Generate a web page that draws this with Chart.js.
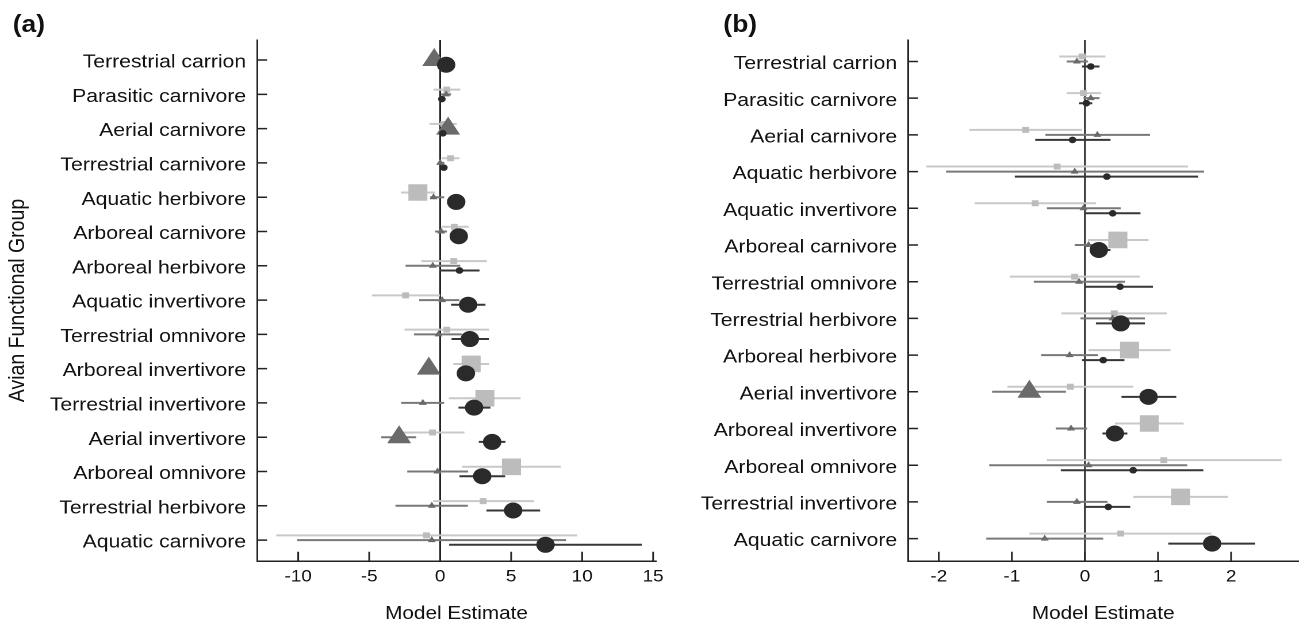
<!DOCTYPE html>
<html><head><meta charset="utf-8">
<script src="https://cdn.jsdelivr.net/npm/chart.js@4.4.1/dist/chart.umd.min.js"></script>
<style>
html,body{margin:0;padding:0;background:#fff;width:1312px;height:626px;overflow:hidden;}
#wrap{position:absolute;left:0;top:0;width:1141px;height:626px;transform:scaleX(1.15);transform-origin:0 0;}
#ca{position:absolute;left:0;top:0;}
#cb{position:absolute;left:600px;top:0;}
.lbl{position:absolute;font:bold 23px "Liberation Sans",Arial,sans-serif;line-height:23px;color:#111;}
</style></head><body>
<div id="wrap">
<canvas id="ca" width="600" height="626"></canvas>
<canvas id="cb" width="541" height="626"></canvas>
<div class="lbl" style="left:11px;top:13px">(a)</div>
<div class="lbl" style="left:629px;top:13px">(b)</div>
</div>
<script>
// ---------- Panel (a) data ----------
const catsA = ['Terrestrial carrion','Parasitic carnivore','Aerial carnivore','Terrestrial carnivore','Aquatic herbivore','Arboreal carnivore','Arboreal herbivore','Aquatic invertivore','Terrestrial omnivore','Arboreal invertivore','Terrestrial invertivore','Aerial invertivore','Arboreal omnivore','Terrestrial herbivore','Aquatic carnivore'];
const xTicksA = [-10, -5, 0, 5, 10, 15];

const sqEstA = [null, 0.47, 0.25, 0.73, -1.57, 0.99, 0.96, -2.44, 0.47, 2.18, 3.15, -0.54, 5.02, 3.03, -0.96];
const sqLoA  = [null, -0.47, -0.75, 0.12, -2.77, 0.12, -1.34, -4.81, -2.51, 0.92, 0.61, -2.58, 1.55, -0.49, -11.55];
const sqHiA  = [null, 1.41, 1.17, 1.36, -0.35, 2.00, 3.29, 0.00, 3.43, 3.43, 5.66, 1.71, 8.50, 6.60, 9.65];
const sqSigA = [0,0,0,0,1,0,0,0,0,1,1,0,1,0,0];

const triEstA = [-0.42, 0.42, 0.56, 0.00, -0.47, 0.07, -0.52, 0.14, -0.12, -0.80, -1.22, -2.89, -0.19, -0.59, -0.59];
const triLoA  = [null, 0.07, null, -0.15, -0.70, -0.35, -2.44, -1.48, -1.85, null, -2.75, -4.15, -2.32, -3.15, -10.07];
const triHiA  = [null, 0.77, null, 0.30, 0.28, 0.47, 1.41, 1.36, 1.53, null, 0.28, -1.69, 1.97, 1.95, 8.87];
const triSigA = [1,0,1,0,0,0,0,0,0,1,0,1,0,0,0];

const cirEstA = [0.42, 0.12, 0.19, 0.26, 1.13, 1.31, 1.36, 1.97, 2.09, 1.81, 2.39, 3.66, 2.96, 5.14, 7.42];
const cirLoA  = [null, -0.12, null, null, null, null, -0.05, 0.77, 0.80, null, 1.29, 2.72, 1.36, 3.26, 0.63];
const cirHiA  = [null, 0.35, null, null, null, null, 2.77, 3.19, 3.43, null, 3.54, 4.60, 4.58, 7.04, 14.20];
const cirSigA = [1,0,0,0,1,1,0,1,1,1,1,1,1,1,1];

// ---------- Panel (b) data ----------
const catsB = ['Terrestrial carrion','Parasitic carnivore','Aerial carnivore','Aquatic herbivore','Aquatic invertivore','Arboreal carnivore','Terrestrial omnivore','Terrestrial herbivore','Arboreal herbivore','Aerial invertivore','Arboreal invertivore','Arboreal omnivore','Terrestrial invertivore','Aquatic carnivore'];
const xTicksB = [-2, -1, 0, 1, 2];

const sqEstB = [-0.04, -0.02, -0.81, -0.38, -0.68, 0.45, -0.14, 0.40, 0.61, -0.20, 0.88, 1.08, 1.31, 0.49];
const sqLoB  = [-0.35, -0.25, -1.58, -2.17, -1.51, 0.04, -1.03, -0.32, 0.05, -1.06, 0.41, -0.52, 0.66, -0.76];
const sqHiB  = [0.28, 0.22, -0.04, 1.41, 0.15, 0.87, 0.75, 1.12, 1.17, 0.66, 1.35, 2.69, 1.96, 1.73];
const sqSigB = [0,0,0,0,0,1,0,0,1,0,1,0,1,0];

const triEstB = [-0.11, 0.08, 0.17, -0.14, -0.02, 0.05, -0.08, 0.38, -0.21, -0.76, -0.19, 0.05, -0.11, -0.55];
const triLoB  = [-0.25, -0.02, -0.54, -1.90, -0.52, -0.14, -0.70, -0.06, -0.60, -1.27, -0.40, -1.31, -0.52, -1.35];
const triHiB  = [0.04, 0.20, 0.89, 1.63, 0.49, 0.11, 0.55, 0.82, 0.18, -0.26, 0.03, 1.40, 0.31, 0.25];
const triSigB = [0,0,0,0,0,0,0,0,0,1,0,0,0,0];

const cirEstB = [0.08, 0.02, -0.17, 0.30, 0.38, 0.19, 0.48, 0.49, 0.25, 0.87, 0.41, 0.66, 0.32, 1.74];
const cirLoB  = [-0.04, -0.08, -0.68, -0.96, 0.00, 0.07, 0.00, 0.15, -0.04, 0.50, 0.24, -0.33, 0.00, 1.14];
const cirHiB  = [0.20, 0.10, 0.35, 1.55, 0.76, 0.35, 0.93, 0.82, 0.54, 1.25, 0.58, 1.62, 0.62, 2.33];
const cirSigB = [0,0,0,0,0,1,0,1,0,1,1,0,0,1];

// ---------- styling ----------
const FONT = '"Liberation Sans", Arial, Helvetica, sans-serif';
const COL = {sq:'#bcbcbc', tri:'#6a6a6a', cir:'#2a2a2a', sqLine:'#c8c8c8', triLine:'#787878', cirLine:'#363636', axis:'#222222', text:'#111111'};
const R = {sq:[4.2, 11.7], tri:[4, 12], cir:[3.3, 8]};
const OFF = {sq:-0.137, tri:0, cir:0.137};

function markerData(est, off){
  return est.map((v,i)=> v==null ? {x:null,y:null} : {x:v, y:i+off});
}
function barData(lo, hi, off){
  const d = [];
  lo.forEach((l,i)=>{
    if (l==null || hi[i]==null) return;
    d.push({x:l, y:i+off}, {x:hi[i], y:i+off}, {x:null, y:null});
  });
  return d;
}

const decor = {
  id:'decor',
  beforeDatasetsDraw(chart){
    const {ctx, chartArea:a, scales:{x}} = chart;
    const px = x.getPixelForValue(0);
    ctx.save();
    ctx.strokeStyle = COL.axis; ctx.lineWidth = 1.5;
    ctx.beginPath(); ctx.moveTo(px, a.top); ctx.lineTo(px, a.bottom); ctx.stroke();
    ctx.restore();
  },
  afterDraw(chart){
    const {ctx, chartArea:a, scales:{x, y}} = chart;
    ctx.save();
    ctx.strokeStyle = COL.axis; ctx.lineWidth = 1.5;
    ctx.beginPath();
    y.ticks.forEach(t=>{ const py = y.getPixelForValue(t.value); ctx.moveTo(a.left, py); ctx.lineTo(a.left + 8.7, py); });
    x.ticks.forEach(t=>{ const px = x.getPixelForValue(t.value); ctx.moveTo(px, a.bottom); ctx.lineTo(px, a.bottom - 9.3); });
    ctx.stroke();
    ctx.restore();
  }
};

function makeChart(id, cats, S, T, C, xmin, xmax, xticks, yWidth, padRight, yTitle){
  const n = cats.length;
  const markers = (ser, style, col, radii, off, order, label)=>({
    label, data: markerData(ser.est, off), pointStyle: style,
    pointRadius: ser.sig.map(s=>radii[s]), pointHoverRadius: ser.sig.map(s=>radii[s]),
    backgroundColor: col, borderWidth: 0, pointBorderWidth: 0, showLine: false, order
  });
  const bars = (ser, col, off, order, label)=>({
    label, data: barData(ser.lo, ser.hi, off), showLine: true, spanGaps: false,
    pointRadius: 0, pointHoverRadius: 0, borderColor: col, borderWidth: 2, order
  });
  return new Chart(document.getElementById(id), {
    type: 'scatter',
    data: { datasets: [
      markers(C, 'circle', COL.cir, R.cir, OFF.cir, 0, 'circle'),
      markers(T, 'triangle', COL.tri, R.tri, OFF.tri, 1, 'triangle'),
      markers(S, 'rect', COL.sq, R.sq, OFF.sq, 2, 'square'),
      bars(C, COL.cirLine, OFF.cir, 3, 'circle CI'),
      bars(T, COL.triLine, OFF.tri, 4, 'triangle CI'),
      bars(S, COL.sqLine, OFF.sq, 5, 'square CI')
    ]},
    options: {
      responsive: false, animation: false, devicePixelRatio: 2,
      layout: { padding: { top: 40, right: padRight, bottom: 0, left: 0 } },
      plugins: { legend: { display: false }, tooltip: { enabled: false } },
      scales: {
        x: {
          type: 'linear', min: xmin, max: xmax,
          afterBuildTicks: s => { s.ticks = xticks.map(v => ({value: v})); },
          afterFit: s => { s.height = 65; },
          grid: { display: false, drawTicks: false },
          border: { color: COL.axis, width: 1.5 },
          ticks: { font: { family: FONT, size: 16.5 }, color: COL.text, padding: 6, maxRotation: 0, autoSkip: false, callback: v => String(v) },
          title: { display: true, text: 'Model Estimate', font: { family: FONT, size: 18 }, color: COL.text, padding: { top: 0, bottom: 1 } }
        },
        y: {
          type: 'linear', reverse: true, min: -0.585, max: n - 0.39,
          afterBuildTicks: s => { s.ticks = cats.map((c, i) => ({value: i})); },
          afterFit: s => { s.width = yWidth; },
          grid: { display: false, drawTicks: false },
          border: { color: COL.axis, width: 1.5 },
          ticks: { font: { family: FONT, size: 18.4 }, color: COL.text, padding: 9.5, labelOffset: 2.5, autoSkip: false, callback: v => cats[Math.round(v)] },
          title: { display: !!yTitle, text: yTitle || '', font: { family: FONT, size: 19.5 }, color: COL.text, padding: { top: 4, bottom: 0 } }
        }
      }
    },
    plugins: [decor]
  });
}

makeChart('ca', catsA,
  {est: sqEstA, lo: sqLoA, hi: sqHiA, sig: sqSigA},
  {est: triEstA, lo: triLoA, hi: triHiA, sig: triSigA},
  {est: cirEstA, lo: cirLoA, hi: cirHiA, sig: cirSigA},
  -12.9, 15.2, xTicksA, 223.5, 29.6, 'Avian Functional Group');

makeChart('cb', catsB,
  {est: sqEstB, lo: sqLoB, hi: sqHiB, sig: sqSigB},
  {est: triEstB, lo: triLoB, hi: triHiB, sig: triSigB},
  {est: cirEstB, lo: cirLoB, hi: cirHiB, sig: cirSigB},
  -2.42, 2.92, xTicksB, 189.6, 1.9, '');
</script>
</body></html>
